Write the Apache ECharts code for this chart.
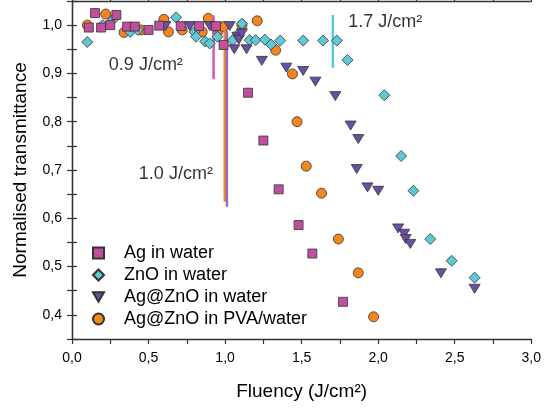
<!DOCTYPE html>
<html><head><meta charset="utf-8">
<script src="https://cdn.jsdelivr.net/npm/echarts@6/dist/echarts.min.js"></script>
<style>html,body{margin:0;padding:0;background:#fff}#c{width:544px;height:408px}</style>
</head><body><div id="c"></div>
<script>
// ---- data ----
const seriesNames = ['Ag in water', 'ZnO in water', 'Ag@ZnO in water', 'Ag@ZnO in PVA/water'];
const agWater = [[0.11,0.995],[0.15,1.025],[0.19,0.995],[0.25,1.0],[0.29,1.021],[0.36,0.997],[0.41,0.997],[0.50,0.99],[0.57,0.999],[0.71,0.998],[0.83,0.998],[0.94,0.998],[0.99,0.959],[1.15,0.86],[1.25,0.761],[1.35,0.66],[1.48,0.586],[1.57,0.527],[1.77,0.427]];
const znoWater = [[0.10,0.965],[0.20,1.0],[0.27,1.012],[0.38,0.986],[0.43,0.99],[0.68,1.016],[0.80,0.986],[0.81,0.976],[0.87,0.966],[0.90,0.962],[0.95,0.976],[1.05,0.969],[1.09,0.983],[1.11,1.003],[1.16,0.969],[1.20,0.969],[1.26,0.970],[1.30,0.96],[1.36,0.968],[1.51,0.968],[1.64,0.968],[1.73,0.968],[1.80,0.928],[2.04,0.855],[2.15,0.729],[2.23,0.657],[2.34,0.557],[2.48,0.512],[2.63,0.477]];
const agZnoWater = [[0.61,0.998],[0.77,0.998],[0.90,0.998],[0.94,0.996],[1.03,0.998],[1.06,0.95],[1.08,0.976],[1.09,0.97],[1.11,0.983],[1.14,0.95],[1.24,0.926],[1.40,0.912],[1.51,0.905],[1.59,0.883],[1.72,0.853],[1.82,0.792],[1.87,0.764],[1.86,0.702],[1.93,0.664],[2.0,0.657],[2.13,0.579],[2.17,0.568],[2.18,0.557],[2.21,0.547],[2.41,0.486],[2.63,0.454]];
const agZnoPva = [[0.10,1.0],[0.22,1.023],[0.34,0.985],[0.45,0.99],[0.60,1.012],[0.63,0.986],[0.72,0.99],[0.85,0.986],[0.89,1.014],[0.95,0.986],[0.99,0.997],[1.11,1.0],[1.21,1.009],[1.33,0.948],[1.44,0.899],[1.47,0.80],[1.53,0.708],[1.63,0.652],[1.74,0.557],[1.87,0.487],[1.97,0.396]];
// threshold markers (vertical segments)
const lineAg = [[0.925,1.02],[0.925,0.888]];
const linePva = [[0.998,1.002],[0.998,0.634]];
const lineAgZno = [[1.012,0.988],[1.012,0.624]];
const lineZno = [[1.704,1.021],[1.704,0.912]];
const annotationTexts = ['0.9 J/cm²', '1.0 J/cm²', '1.7 J/cm²'];
const annotationAt = [[0.244,0.917],[0.44,0.69],[1.808,1.005]];
const xRange = [0, 3];
const yRange = [0.35, 1.05];
const xLabel = 'Fluency (J/cm²)';
const yLabel = 'Normalised transmittance';

// ---- styles ----
const FONT = 'Liberation Sans, Arial, sans-serif';
const TXT = '#000';
const C = {ag:'#c24f9e', zno:'#5ec8d6', agzno:'#6a4fa3', pva:'#f5861f'};
const LC = {ag:'#cc5cae', zno:'#5cc6dc', agzno:'#8a70c6', pva:'#f5861f'};
const tri = 'path://M0,0L10,0L5,8.7Z';
const border = {borderColor:'#333', borderWidth:0.8, opacity:1};

function fmt(step){
  return function(v){
    const r = Math.round(v*100);
    return r % step === 0 ? (r/100).toFixed(1).replace('.', ',') : '';
  };
}
const axisLineStyle = {show:true, lineStyle:{color:'#333', width:1.3}};
const tick = {show:true, inside:false, length:5, lineStyle:{color:'#333', width:1.2}};

const chart = echarts.init(document.getElementById('c'), null, {renderer:'canvas'});
const vline = (data, color) => ({type:'line', data, showSymbol:false, symbol:'none', silent:true,
  lineStyle:{color, width:2.5}, z:3, animation:false});

chart.setOption({
  animation:false,
  textStyle:{fontFamily:FONT},
  grid:{left:72, right:11, top:1, bottom:69},
  legend:{
    data:seriesNames, orient:'vertical', left:92, top:244, padding:0,
    itemWidth:11, itemHeight:11, itemGap:4, symbolKeepAspect:true,
    textStyle:{fontSize:18, lineHeight:18, color:TXT, fontFamily:FONT, padding:[0,0,0,15]}
  },
  xAxis:[{
    type:'value', min:xRange[0], max:xRange[1], interval:0.25,
    name:xLabel, nameLocation:'middle', nameGap:43,
    nameTextStyle:{fontSize:19, color:TXT, fontFamily:FONT},
    axisLine:axisLineStyle, axisTick:tick, splitLine:{show:false},
    axisLabel:{formatter:fmt(50), fontSize:14, color:TXT, margin:12, fontFamily:FONT}
  },{
    type:'value', position:'top', min:xRange[0], max:xRange[1], interval:0.25,
    axisLine:axisLineStyle, axisTick:tick, splitLine:{show:false}, axisLabel:{show:false}
  }],
  yAxis:[{
    type:'value', min:yRange[0], max:yRange[1], interval:0.05,
    name:yLabel, nameLocation:'middle', nameGap:42, nameRotate:90,
    nameTextStyle:{fontSize:19, color:TXT, fontFamily:FONT},
    axisLine:axisLineStyle, axisTick:tick, splitLine:{show:false},
    axisLabel:{formatter:fmt(10), fontSize:14, color:TXT, margin:10, fontFamily:FONT}
  },{
    type:'value', position:'right', min:yRange[0], max:yRange[1], interval:0.05,
    axisLine:axisLineStyle, axisTick:tick, splitLine:{show:false}, axisLabel:{show:false}
  }],
  series:[
    vline(lineAg, LC.ag), vline(linePva, LC.pva), vline(lineAgZno, LC.agzno), vline(lineZno, LC.zno),
    {name:seriesNames[0], type:'scatter', data:agWater, symbol:'rect', symbolSize:9, z:6,
      itemStyle:Object.assign({color:C.ag}, border)},
    {name:seriesNames[1], type:'scatter', data:znoWater, symbol:'diamond', symbolSize:11, z:4,
      itemStyle:Object.assign({color:C.zno}, border)},
    {name:seriesNames[2], type:'scatter', data:agZnoWater, symbol:tri, symbolSize:[11,9], z:5,
      itemStyle:Object.assign({color:C.agzno}, border)},
    {name:seriesNames[3], type:'scatter', data:agZnoPva, symbol:'circle', symbolSize:10, z:2,
      itemStyle:Object.assign({color:C.pva}, border)},
    {type:'scatter', silent:true, symbolSize:1, itemStyle:{color:'rgba(0,0,0,0)'}, z:7,
      data:annotationAt.map((p,i)=>({value:p, label:{formatter:annotationTexts[i]}})),
      label:{show:true, position:[0,0], align:'left', verticalAlign:'middle',
        fontSize:18, color:TXT, fontFamily:FONT}}
  ]
});
</script></body></html>
